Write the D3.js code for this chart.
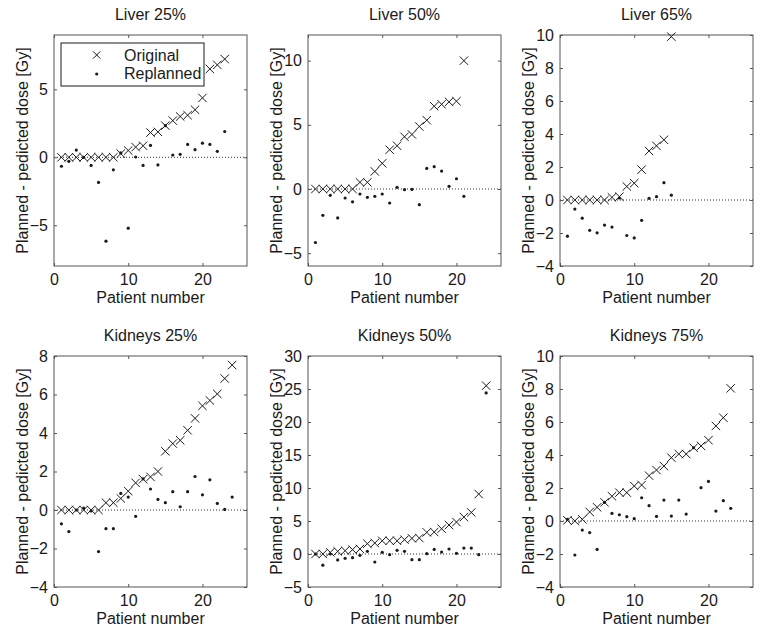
<!DOCTYPE html>
<html>
<head>
<meta charset="utf-8">
<script src="https://cdn.jsdelivr.net/npm/d3@7"></script>
<style>
  html, body { margin: 0; padding: 0; background: #fff; }
  svg text { font-family: "Liberation Sans", Arial, sans-serif; fill: #1a1a1a; }
</style>
</head>
<body>
<svg id="chart" width="766" height="637"></svg>
<script>
// ---- Data ----
const titles = ["Liver 25%", "Liver 50%", "Liver 65%", "Kidneys 25%", "Kidneys 50%", "Kidneys 75%"];
const xTicks = [0, 10, 20];
const xDomain = [0, 26];
const yDomains = [[-8, 9], [-6, 12], [-4, 10], [-4, 8], [-5, 30], [-4, 10]];
const yTicksList = [
  [-5, 0, 5],
  [-5, 0, 5, 10],
  [-4, -2, 0, 2, 4, 6, 8, 10],
  [-4, -2, 0, 2, 4, 6, 8],
  [-5, 0, 5, 10, 15, 20, 25, 30],
  [-4, -2, 0, 2, 4, 6, 8, 10]
];
const legendLabels = ["Original", "Replanned"];
const xLabel = "Patient number";
const yLabel = "Planned - pedicted dose [Gy]";

const liver25Orig = [0,0,0,0,0,0,0,0,0.27,0.5,0.75,0.85,1.82,1.87,2.33,2.7,3.0,3.1,3.5,4.37,6.5,6.8,7.23];
const liver25Rep  = [-0.66,-0.3,0.53,0,-0.6,-1.85,-6.17,-0.92,0.32,-5.22,0.02,-0.6,0.87,-0.56,2.33,0.17,0.22,0.95,0.56,1.04,0.95,0.44,1.9];

const liver50Orig = [0,0,0,0,0,0,0.52,0.52,1.37,2.0,3.06,3.37,4.07,4.25,4.87,5.36,6.45,6.6,6.79,6.84,10.0];
const liver50Rep  = [-4.17,-2.05,-0.49,-2.25,-0.7,-1.0,-0.39,-0.65,-0.57,-0.39,-1.09,0.13,-0.05,-0.03,-1.22,1.6,1.74,1.4,0.21,0.8,-0.57];

const liver65Orig = [0,0,0,0,0,0,0.16,0.2,0.82,1.02,1.84,2.97,3.28,3.65,9.9];
const liver65Rep  = [-2.19,-0.55,-1.1,-1.84,-1.99,-1.52,-1.64,0.12,-2.15,-2.3,-1.23,0.1,0.2,1.05,0.29];

const kid25Orig = [0,0,0,0,0,0,0.38,0.38,0.6,0.98,1.41,1.6,1.72,2.0,3.05,3.45,3.62,4.14,4.76,5.41,5.69,6.03,6.83,7.53];
const kid25Rep  = [-0.72,-1.12,0,0.1,-0.05,-2.16,-0.97,-0.97,0.86,0.67,-0.33,1.62,1.09,0.55,0.38,0.95,0.17,0.95,1.74,0.79,1.57,0.34,0.03,0.67];

const kid50Orig = [0,0,0.25,0.4,0.5,0.66,0.76,1.56,1.66,2.0,2.0,2.0,2.17,2.37,2.42,3.28,3.33,3.83,4.39,4.84,5.6,6.3,9.08,25.5];
const kid50Rep  = [0,-1.7,0,-0.9,-0.65,-0.55,-0.2,0.4,-1.21,0.25,-0.1,0.55,0.4,-0.86,-0.86,0.05,0.7,0.3,0.76,0.1,0.9,0.9,-0.1,24.4];

const kid75Orig = [0.04,0,0.1,0.55,0.83,1.13,1.5,1.72,1.72,2.12,2.18,2.75,3.09,3.33,3.84,4.06,4.06,4.44,4.55,4.9,5.76,6.26,8.04];
const kid75Rep  = [0.1,-2.06,-0.55,-0.7,-1.72,1.13,0.46,0.38,0.26,0.14,1.41,0.93,0.28,1.27,0.3,1.27,0.42,4.44,2.02,2.4,0.6,1.23,0.77];

const originals = [liver25Orig, liver50Orig, liver65Orig, kid25Orig, kid50Orig, kid75Orig];
const replanned = [liver25Rep, liver50Rep, liver65Rep, kid25Rep, kid50Rep, kid75Rep];

// ---- Layout ----
const colLefts = [54, 308, 560];
const rowTops = [35, 356];
const plotW = 193, plotH = 231;
const fontSize = 16;
const ink = "#1a1a1a";
const frame = "#555";

const svg = d3.select("#chart");

titles.forEach((title, i) => {
  const col = i % 3, row = Math.floor(i / 3);
  const left = colLefts[col], top = rowTops[row];
  const x = d3.scaleLinear().domain(xDomain).range([0, plotW]);
  const y = d3.scaleLinear().domain(yDomains[i]).range([plotH, 0]);
  const g = svg.append("g").attr("transform", `translate(${left},${top})`);

  // zero dotted line
  g.append("line")
    .attr("x1", 0).attr("x2", plotW)
    .attr("y1", y(0)).attr("y2", y(0))
    .attr("stroke", "#333").attr("stroke-width", 1)
    .attr("stroke-dasharray", "1,2");

  // axes with inward ticks
  const axL = d3.axisLeft(y).tickValues(yTicksList[i]).tickSize(-3).tickPadding(6).tickFormat(d3.format("d"));
  const axR = d3.axisRight(y).tickValues(yTicksList[i]).tickSize(-3).tickFormat("");
  const axB = d3.axisBottom(x).tickValues(xTicks).tickSize(-3).tickPadding(8).tickFormat(d3.format("d"));
  const axT = d3.axisTop(x).tickValues(xTicks).tickSize(-3).tickFormat("");

  const gl = g.append("g").call(axL);
  const gr = g.append("g").attr("transform", `translate(${plotW},0)`).call(axR);
  const gb = g.append("g").attr("transform", `translate(0,${plotH})`).call(axB);
  const gt = g.append("g").call(axT);
  [gl, gr, gb, gt].forEach(a => {
    a.select(".domain").remove();
    a.selectAll(".tick line").attr("stroke", frame);
    a.selectAll(".tick text").attr("font-size", fontSize).attr("fill", ink)
      .attr("font-family", '"Liberation Sans", Arial, sans-serif');
  });

  // frame
  g.append("rect").attr("x", 0).attr("y", 0).attr("width", plotW).attr("height", plotH)
    .attr("fill", "none").attr("stroke", frame).attr("stroke-width", 1);

  // title
  g.append("text").attr("x", plotW / 2).attr("y", -15).attr("text-anchor", "middle")
    .attr("font-size", fontSize).text(title);
  // x label
  g.append("text").attr("x", plotW / 2).attr("y", plotH + 37).attr("text-anchor", "middle")
    .attr("font-size", fontSize).text(xLabel);
  // y label
  g.append("text").attr("transform", `translate(${-26},${plotH / 2}) rotate(-90)`)
    .attr("text-anchor", "middle").attr("font-size", fontSize).text(yLabel);

  // Original: x markers
  const s = 4.2;
  const orig = originals[i].map((v, k) => ({ p: k + 1, v }));
  g.append("g").selectAll("path").data(orig).join("path")
    .attr("d", d => {
      const cx = x(d.p), cy = y(d.v);
      return `M${cx - s},${cy - s}L${cx + s},${cy + s}M${cx - s},${cy + s}L${cx + s},${cy - s}`;
    })
    .attr("stroke", ink).attr("stroke-width", 1).attr("fill", "none");

  // Replanned: dots
  const rep = replanned[i].map((v, k) => ({ p: k + 1, v }));
  g.append("g").selectAll("circle").data(rep).join("circle")
    .attr("cx", d => x(d.p)).attr("cy", d => y(d.v)).attr("r", 1.6).attr("fill", ink);

  // legend in first panel
  if (i === 0) {
    const lg = g.append("g").attr("transform", "translate(7,8)");
    lg.append("rect").attr("x", 0).attr("y", 0).attr("width", 143).attr("height", 43)
      .attr("fill", "#fff").attr("stroke", ink).attr("stroke-width", 1);
    const mx = 35.7;
    const ls = 3.6;
    lg.append("path")
      .attr("d", `M${mx - ls},${12 - ls}L${mx + ls},${12 + ls}M${mx - ls},${12 + ls}L${mx + ls},${12 - ls}`)
      .attr("stroke", ink).attr("stroke-width", 1);
    lg.append("circle").attr("cx", mx).attr("cy", 31).attr("r", 1.6).attr("fill", ink);
    lg.append("text").attr("x", 63).attr("y", 18).attr("font-size", fontSize).text(legendLabels[0]);
    lg.append("text").attr("x", 63).attr("y", 36).attr("font-size", fontSize).text(legendLabels[1]);
  }
});
</script>
</body>
</html>
